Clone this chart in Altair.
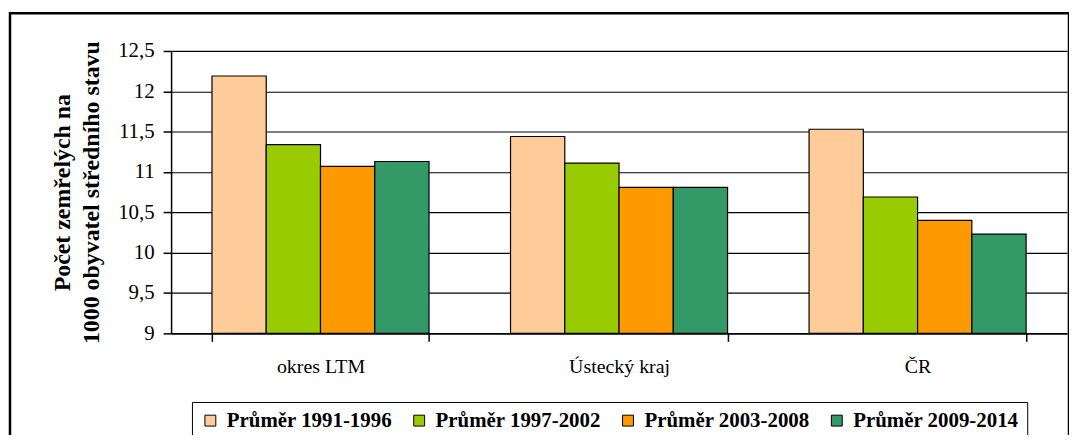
import altair as alt
import pandas as pd

regions = ["okres LTM", "Ústecký kraj", "ČR"]
periods = ["Průměr 1991-1996", "Průměr 1997-2002", "Průměr 2003-2008", "Průměr 2009-2014"]
colors = ["#FFCC99", "#99CC00", "#FF9900", "#339966"]
v_1991 = [12.19, 11.44, 11.53]
v_1997 = [11.34, 11.11, 10.69]
v_2003 = [11.07, 10.81, 10.40]
v_2009 = [11.13, 10.81, 10.23]
y_min, y_max = 9, 12.5
y_ticks = [9, 9.5, 10, 10.5, 11, 11.5, 12, 12.5]

rows = []
for series, vals in zip(periods, [v_1991, v_1997, v_2003, v_2009]):
    for r, v in zip(regions, vals):
        rows.append({"region": r, "period": series, "value": v})
df = pd.DataFrame(rows)

FONT = "'Times New Roman', 'Liberation Serif', Times, serif"

bars = alt.Chart(df).mark_bar(stroke="black", strokeWidth=1.2).encode(
    x=alt.X("region:N", sort=regions, title=None,
            scale=alt.Scale(paddingInner=0.273, paddingOuter=0.137),
            axis=alt.Axis(labelAngle=0, labelFont=FONT, labelFontSize=20,
                          labelColor="black", labelPadding=15, tickBand="extent",
                          tickColor="black", tickSize=8, tickWidth=1.5,
                          domainColor="black", domainWidth=1.5, grid=False)),
    xOffset=alt.XOffset("period:N", sort=periods),
    y=alt.Y("value:Q", scale=alt.Scale(domain=[y_min, y_max], nice=False, zero=False),
            title=["Počet zemřelých na", "1000 obyvatel středního stavu"],
            axis=alt.Axis(values=y_ticks,
                          labelExpr="replace(format(datum.value, '~g'), '.', ',')",
                          labelFont=FONT, labelFontSize=21, labelColor="black",
                          labelPadding=9, tickColor="black", tickSize=8, tickWidth=1.5,
                          domainColor="black", domainWidth=1.5,
                          gridColor="black", gridWidth=1.2,
                          titleFont=FONT, titleFontSize=24, titleFontWeight="bold",
                          titleColor="black", titlePadding=14, titleLineHeight=29)),
    y2=alt.datum(y_min),
    color=alt.Color("period:N", sort=periods,
                    scale=alt.Scale(domain=periods, range=colors),
                    legend=alt.Legend(title=None, orient="none", direction="horizontal",
                                      legendX=21, legendY=353,
                                      labelFont=FONT, labelFontSize=21, labelLimit=400,
                                      labelFontWeight="bold", labelColor="black",
                                      symbolType="square", symbolSize=120,
                                      symbolStrokeColor="black", symbolStrokeWidth=1,
                                      columnPadding=16, labelOffset=6,
                                      strokeColor="black", padding=8)),
)

frame = alt.Chart(pd.DataFrame({"a": [0]})).mark_rect(
    fill=None, stroke="black", strokeWidth=2.5
).encode(
    x=alt.value(-162), x2=alt.value(903), y=alt.value(-38), y2=alt.value(420)
)

chart = alt.layer(frame, bars).properties(
    width=901, height=284,
    autosize=alt.AutoSizeParams(type="none"),
    padding={"left": 164, "top": 42, "right": 2, "bottom": 101},
).configure_view(stroke="#999999", strokeWidth=1.5).configure(background="white")

chart.save("out.html", embed_options={"renderer": "svg", "actions": False})
